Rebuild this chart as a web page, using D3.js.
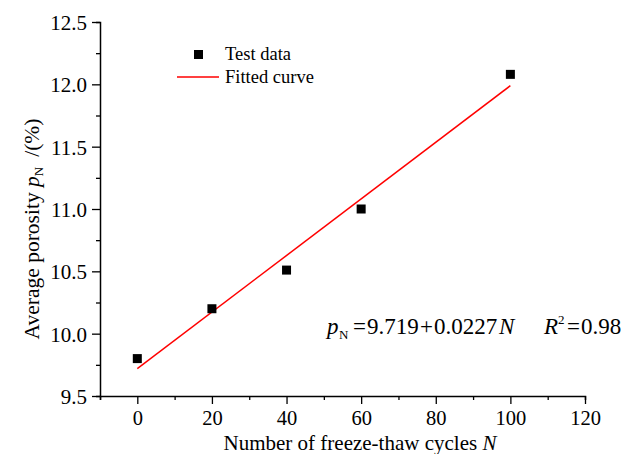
<!DOCTYPE html>
<html>
<head>
<meta charset="utf-8">
<script src="https://cdn.jsdelivr.net/npm/d3@7"></script>
<style>
  body { margin: 0; background: #fff; }
  text { font-family: "Liberation Serif", "Times New Roman", serif; }
</style>
</head>
<body>
<div id="chart"></div>
<script>
// datos medidos
var ciclos = [0, 20, 40, 60, 100];
var porosidad = [9.80, 10.20, 10.51, 11.00, 12.08];
// recta ajustada p = a + b*N
var ajusteN = [0, 100];
var ajusteA = 9.719, ajusteB = 0.0227;
var ticksX = [0, 20, 40, 60, 80, 100, 120];
var ticksY = [9.5, 10.0, 10.5, 11.0, 11.5, 12.0, 12.5];

var W = 641, H = 454;
var x0 = 100, x1 = 585, yTop = 22, yBot = 396;

var svg = d3.select("#chart").append("svg")
    .attr("width", W).attr("height", H);

var x = d3.scaleLinear().domain([-10, 120]).range([x0, x1]);
var y = d3.scaleLinear().domain([9.5, 12.5]).range([yBot, yTop]);

function esMayor(d) {
    return ticksY.some(function (t) { return Math.abs(t - d) < 1e-6; });
}

// ejes con ticks menores
var gx = svg.append("g").attr("transform", "translate(0," + yBot + ")");
gx.call(d3.axisBottom(x).tickValues(d3.range(-10, 121, 10)).tickSize(4).tickFormat(""));
gx.selectAll(".tick line").attr("y2", function (d) { return d % 20 == 0 ? 8 : 4; });
gx.selectAll(".tick").filter(function (d) { return ticksX.indexOf(d) >= 0; })
    .append("text")
    .attr("y", 29)
    .attr("fill", "#000")
    .attr("font-size", "20.5px")
    .attr("text-anchor", "middle")
    .text(function (d) { return d; });

var gy = svg.append("g").attr("transform", "translate(" + x0 + ",0)");
gy.call(d3.axisLeft(y).tickValues(d3.range(9.5, 12.51, 0.25)).tickSize(4).tickFormat(""));
gy.selectAll(".tick line").attr("x2", function (d) { return esMayor(d) ? -8 : -4; });
gy.selectAll(".tick").filter(esMayor)
    .append("text")
    .attr("x", -13)
    .attr("dy", "0.35em")
    .attr("fill", "#000")
    .attr("font-size", "21px")
    .attr("text-anchor", "end")
    .text(function (d) { return d.toFixed(1); });

svg.selectAll(".domain").attr("stroke", "#000").attr("stroke-width", 1.5);
svg.selectAll(".tick line").attr("stroke", "#000").attr("stroke-width", 1.3);

// recta ajustada
svg.append("line")
    .attr("x1", x(ajusteN[0])).attr("y1", y(ajusteA + ajusteB * ajusteN[0]))
    .attr("x2", x(ajusteN[1])).attr("y2", y(ajusteA + ajusteB * ajusteN[1]))
    .attr("stroke", "#ff0000").attr("stroke-width", 1.5);

// puntos
var sz = 9;
svg.selectAll("rect.punto")
    .data(ciclos)
    .enter()
    .append("rect")
    .attr("class", "punto")
    .attr("x", function (d) { return x(d) - sz / 2; })
    .attr("y", function (d, i) { return y(porosidad[i]) - sz / 2; })
    .attr("width", sz).attr("height", sz)
    .attr("fill", "#000");

// leyenda
svg.append("rect").attr("x", 194).attr("y", 50).attr("width", sz).attr("height", sz).attr("fill", "#000");
svg.append("text").attr("x", 225).attr("y", 60).attr("font-size", "18.5px").text("Test data");
svg.append("line").attr("x1", 177).attr("x2", 219).attr("y1", 77).attr("y2", 77)
    .attr("stroke", "#ff0000").attr("stroke-width", 1.5);
svg.append("text").attr("x", 225).attr("y", 83).attr("font-size", "18.5px").text("Fitted curve");

// ecuación
var eq = svg.append("text").attr("y", 334).attr("font-size", "23px");
eq.append("tspan").attr("x", 327).attr("font-style", "italic").text("p");
eq.append("tspan").attr("x", 339).attr("font-size", "13px").attr("dy", 5).text("N");
eq.append("tspan").attr("x", 353).attr("dy", -5).text("=");
eq.append("tspan").attr("x", 367).text("9.719");
eq.append("tspan").attr("x", 420).text("+");
eq.append("tspan").attr("x", 434).text("0.0227");
eq.append("tspan").attr("x", 499).attr("font-style", "italic").text("N");
eq.append("tspan").attr("x", 544).attr("font-style", "italic").text("R");
eq.append("tspan").attr("x", 558).attr("font-size", "13px").attr("dy", -10).text("2");
eq.append("tspan").attr("x", 567).attr("dy", 10).text("=");
eq.append("tspan").attr("x", 581).text("0.98");

// títulos de ejes
var xl = svg.append("text").attr("x", 360).attr("y", 450).attr("font-size", "21px")
    .attr("text-anchor", "middle");
xl.append("tspan").text("Number of freeze-thaw cycles ");
xl.append("tspan").attr("font-style", "italic").text("N");

var yl = svg.append("text").attr("transform", "translate(39,229) rotate(-90)")
    .attr("font-size", "21.5px").attr("text-anchor", "middle");
yl.append("tspan").text("Average porosity ");
yl.append("tspan").attr("font-style", "italic").text("p");
yl.append("tspan").attr("font-size", "13px").attr("dy", 4).text("N");
yl.append("tspan").attr("dy", -4).attr("dx", 10).text("/(%)");
</script>
</body>
</html>
